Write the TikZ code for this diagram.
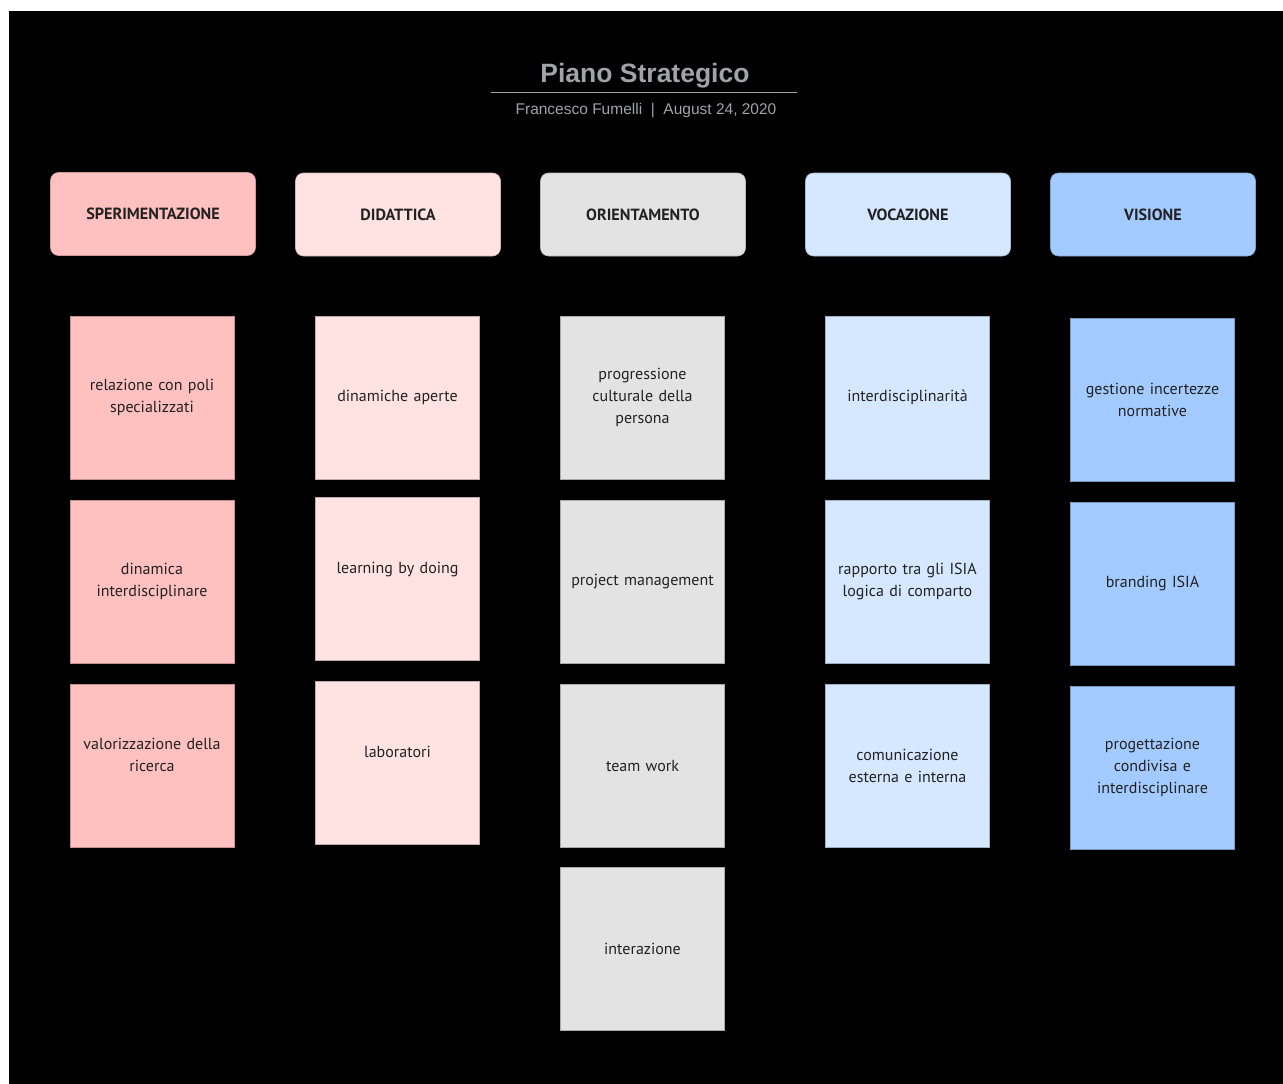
\documentclass[tikz,border=0pt]{standalone}
\usepackage{fontspec}
\setmainfont{PT Sans}
\newfontfamily\titlefont{Liberation Sans}
\definecolor{cSper}{HTML}{FFC0C0}
\definecolor{cDid}{HTML}{FFE3E3}
\definecolor{cOri}{HTML}{E3E3E3}
\definecolor{cVoc}{HTML}{D6E8FF}
\definecolor{cVis}{HTML}{A4CBFF}
\definecolor{titlegray}{HTML}{A0A4AA}
\definecolor{txt}{HTML}{222222}
\tikzset{
  hdr/.style={fill=#1, draw=#1!80!black, line width=0.6pt, rounded corners=8pt,
    minimum width=205pt, minimum height=83pt, inner sep=0pt,
    font=\fontsize{16.2}{19}\selectfont\bfseries, text=txt},
  card/.style={fill=#1, draw=#1!75!black, line width=0.6pt,
    minimum width=164pt, minimum height=163pt, inner sep=0pt,
    align=center, text width=156pt,
    font=\fontsize{16}{22}\selectfont, text=txt},
}
\begin{document}
\begin{tikzpicture}[x=1pt,y=-1pt]
\useasboundingbox (0,0) rectangle (1283,1084);
\fill[white] (0,0) rectangle (1283,1084);
\fill[black] (9,11) rectangle (1283,1084);
% title
\node[font=\titlefont\fontsize{26.5}{30}\selectfont\bfseries, text=titlegray] (title) at (645,75.5) {Piano Strategico};
\coordinate (la) at (491,92);
\coordinate (lb) at (797,92);
\draw[titlegray, line width=0.8pt] (la) -- (lb);
\node[font=\titlefont\fontsize{15.5}{18}\selectfont, text=titlegray] (sub) at (646,110.5) {Francesco Fumelli \ | \ August 24, 2020};
% headers
\node[hdr=cSper] (h1) at (153,214) {SPERIMENTAZIONE};
\node[hdr=cDid] (h2) at (398,214.5) {DIDATTICA};
\node[hdr=cOri] (h3) at (643,214.5) {ORIENTAMENTO};
\node[hdr=cVoc] (h4) at (908,214.5) {VOCAZIONE};
\node[hdr=cVis] (h5) at (1153,214.5) {VISIONE};
% column 1
\node[card=cSper] (s1) at (152,397.5) {relazione con poli\\specializzati};
\node[card=cSper] (s2) at (152,581.5) {dinamica\\interdisciplinare};
\node[card=cSper] (s3) at (152,765.5) {valorizzazione della\\ricerca\\\mbox{}};
% column 2
\node[card=cDid] (d1) at (397.5,397.5) {dinamiche aperte};
\node[card=cDid] (d2) at (397.5,579) {learning by doing\\\mbox{}};
\node[card=cDid] (d3) at (397.5,763) {laboratori\\\mbox{}};
% column 3
\node[card=cOri] (o1) at (642.5,397.5) {progressione\\culturale della\\persona};
\node[card=cOri] (o2) at (642.5,581.5) {project management};
\node[card=cOri] (o3) at (642.5,765.5) {team work};
\node[card=cOri] (o4) at (642.5,949) {interazione};
% column 4
\node[card=cVoc] (v1) at (907.5,397.5) {interdisciplinarità};
\node[card=cVoc] (v2) at (907.5,581.5) {rapporto tra gli ISIA\\logica di comparto};
\node[card=cVoc] (v3) at (907.5,765.5) {comunicazione\\esterna e interna};
% column 5
\node[card=cVis] (w1) at (1152.5,400) {gestione incertezze\\normative};
\node[card=cVis] (w2) at (1152.5,583.5) {branding ISIA};
\node[card=cVis] (w3) at (1152.5,767.5) {progettazione\\condivisa e\\interdisciplinare};
\end{tikzpicture}
\end{document}
